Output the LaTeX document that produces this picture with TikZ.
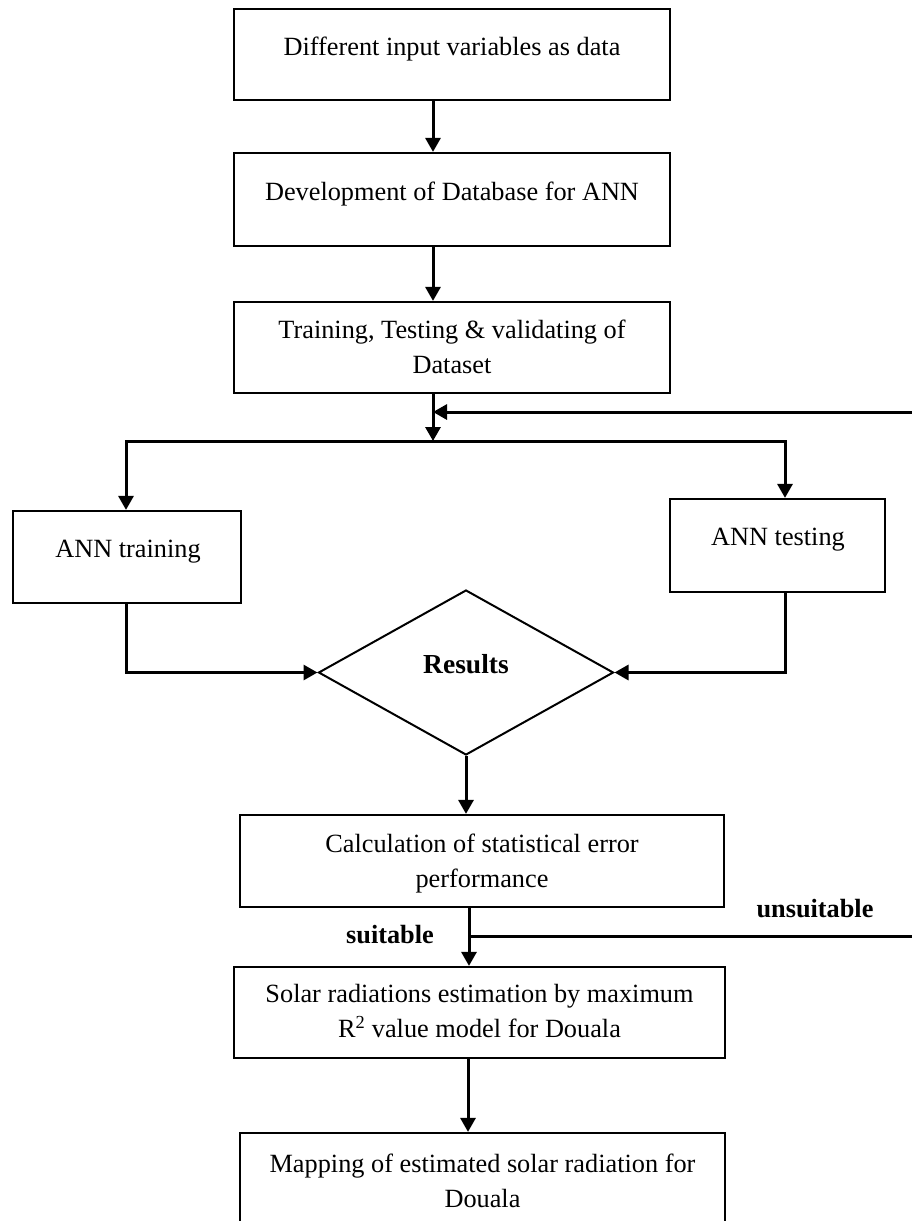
\documentclass[tikz,border=0pt]{standalone}
\usepackage{fontspec}
\setmainfont{Liberation Serif}
\usetikzlibrary{arrows.meta,shapes.geometric}
\begin{document}
\begin{tikzpicture}[x=1bp,y=-1bp,
  >={Triangle[length=14bp,width=15bp]},
  box/.style={draw, rectangle, line width=2.2bp, inner sep=0pt},
  dia/.style={draw, diamond, line width=2bp, inner sep=0pt},
  txt/.style={font=\fontsize{26.3bp}{35bp}\selectfont, align=center, inner sep=0pt, anchor=base},
  lbl/.style={font=\fontsize{26.3bp}{35bp}\selectfont\bfseries, inner sep=0pt, anchor=base},
  conn/.style={line width=3bp}]
\path[use as bounding box] (0,0) rectangle (912,1221);
\fill[white] (0,0) rectangle (912,1221);
\clip (0,0) rectangle (912,1221);

% boxes
\node[box, minimum width=436bp, minimum height=91bp] (b1) at (452,54.5) {};
\node[box, minimum width=436bp, minimum height=93bp] (b2) at (452,199.5) {};
\node[box, minimum width=436bp, minimum height=91bp] (b3) at (452,347.5) {};
\node[box, minimum width=228bp, minimum height=92bp] (train) at (127,557) {};
\node[box, minimum width=215bp, minimum height=93bp] (test) at (777.5,545.5) {};
\node[dia, minimum width=295bp, minimum height=165bp] (res) at (466,672.5) {};
\node[box, minimum width=484bp, minimum height=92bp] (calc) at (482,861) {};
\node[box, minimum width=491bp, minimum height=91bp] (solar) at (479.5,1012.5) {};
\node[box, minimum width=485bp, minimum height=112bp] (map) at (482.5,1189) {};

% texts (base anchor of a two-line node = baseline of its last line)
\node[txt] (t1) at (452,55) {Different input variables as data};
\node[txt] (t2) at (452,200) {Development of Database for ANN};
\node[txt] (t3) at (452,373) {Training, Testing \& validating of\\Dataset};
\node[txt] (t4) at (128,557) {ANN training};
\node[txt] (t5) at (778,545) {ANN testing};
\node[lbl, font=\fontsize{27.5bp}{35bp}\selectfont\bfseries] (t6) at (466,673) {Results};
\node[txt] (t7) at (482,887) {Calculation of statistical error\\performance};
\node[txt] (t8) at (479.5,1037) {Solar radiations estimation by maximum\\R\textsuperscript{2} value model for Douala};
\node[txt] (t9) at (482.5,1207) {Mapping of estimated solar radiation for\\Douala};
\node[lbl] (suit) at (390,943) {suitable};
\node[lbl] (unsuit) at (815,917) {unsuitable};

% connector points
\coordinate (axis) at (433,441);
\coordinate (tl) at (126,441);
\coordinate (tr) at (785,441);
\coordinate (fbin) at (912,412);
\coordinate (ax2) at (469,936);
\coordinate (fbout) at (912,936);
\coordinate (ax3) at (468,1100);

% connectors
\draw[conn,->] (b1.south -| axis) -- (b2.north -| axis);
\draw[conn,->] (b2.south -| axis) -- (b3.north -| axis);
\draw[conn,->] (b3.south -| axis) -- (axis);
\draw[conn,->] (fbin) -- (fbin -| axis);
\draw[conn,<->] (train.north -| tl) -- (tl) -- (tr) -- (test.north -| tr);
\draw[conn,->] (train.south -| tl) |- (res.west);
\draw[conn,->] (test.south -| tr) |- (res.east);
\draw[conn,->] (res.south) -- (calc.north -| res.south);
\draw[conn,->] (calc.south -| ax2) -- (solar.north -| ax2);
\draw[conn] (ax2) -- (fbout);
\draw[conn,->] (solar.south -| ax3) -- (map.north -| ax3);
\end{tikzpicture}
\end{document}
